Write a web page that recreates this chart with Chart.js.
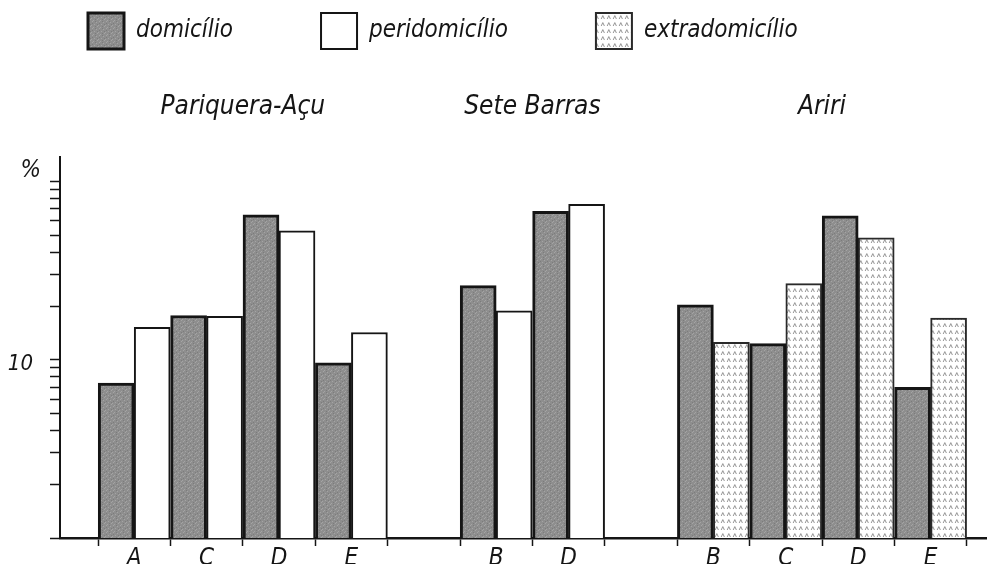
<!DOCTYPE html>
<html>
<head>
<meta charset="utf-8">
<script src="https://cdn.jsdelivr.net/npm/chart.js@4.4.1/dist/chart.umd.min.js"></script>
<style>
  html, body { margin: 0; padding: 0; background: #fff; }
  #chart { display: block; }
</style>
</head>
<body>
<canvas id="chart" width="987" height="564"></canvas>
<script>
// Slots along the x axis, blank ones are the gaps between localities
const slots = ['A', 'C', 'D', 'E', '', 'B', 'D', '', 'B', 'C', 'D', 'E'];
const slotGroup = [0, 0, 0, 0, null, 1, 1, null, 2, 2, 2, 2];
const groups = ['Pariquera-Açu', 'Sete Barras', 'Ariri'];

// Percentages
const domicilio      = [7.4, 17.7, 65, 9.6, null, 26, 68, null, 20.3, 12.3, 64, 7.0];
const peridomicilio  = [15.2, 17.5, 52.8, 14.2, null, 18.8, 74.4, null, null, null, null, null];
const extradomicilio = [null, null, null, null, null, null, null, null, 12.5, 26.7, 48.3, 17.1];

// y axis ticks (only 10 is labelled)
const yTicks = [1, 2, 3, 4, 5, 6, 7, 8, 9, 10, 20, 30, 40, 50, 60, 70, 80, 90, 100];
const yLabelled = [10];

const FONT = "'Liberation Sans Narrow', 'DejaVu Sans Condensed', 'Liberation Sans', sans-serif";
const INK = '#151515';

// Center of each locality, in slot units
const groupCenters = groups.map((g, gi) => {
  const idx = slotGroup.map((s, i) => (s === gi ? i : null)).filter(v => v !== null);
  return (idx[0] + idx[idx.length - 1]) / 2;
});

// Fill patterns
function makePattern(w, h, paint) {
  const c = document.createElement('canvas');
  c.width = w;
  c.height = h;
  paint(c.getContext('2d'));
  return document.getElementById('chart').getContext('2d').createPattern(c, 'repeat');
}

const grayFill = makePattern(7, 7, g => {
  g.fillStyle = '#8e8e8e';
  g.fillRect(0, 0, 7, 7);
  g.fillStyle = '#a4a4a4';
  [[1, 0], [5, 1], [3, 3], [0, 4], [6, 5], [2, 6]].forEach(([x, y]) => g.fillRect(x, y, 1, 1));
  g.fillStyle = '#7c7c7c';
  [[4, 0], [1, 2], [6, 3], [4, 5]].forEach(([x, y]) => g.fillRect(x, y, 1, 1));
});

const caretFill = makePattern(6, 7, g => {
  g.fillStyle = '#ffffff';
  g.fillRect(0, 0, 6, 7);
  g.strokeStyle = '#8a8a8a';
  g.lineWidth = 0.9;
  g.beginPath();
  g.moveTo(1.2, 5);
  g.lineTo(2.8, 1.6);
  g.lineTo(4.4, 5);
  g.stroke();
});

// Locality names above their bar groups, and the "%" unit mark
const annotations = {
  id: 'annotations',
  afterDraw(chart) {
    const {ctx, scales: {x, y}} = chart;
    ctx.save();
    ctx.fillStyle = INK;
    ctx.textBaseline = 'middle';
    ctx.textAlign = 'center';
    ctx.font = 'italic 26px ' + FONT;
    groups.forEach((g, i) => ctx.fillText(g, x.getPixelForValue(groupCenters[i]), y.top - 50));
    ctx.textAlign = 'right';
    ctx.font = 'italic 24px ' + FONT;
    ctx.fillText('%', 41, y.top + 14);
    ctx.restore();
  }
};

const labels = slots.map((s, i) => i);

new Chart(document.getElementById('chart'), {
  type: 'bar',
  data: {
    labels,
    datasets: [{
      label: 'domicílio',
      data: domicilio,
      stack: 'home',
      backgroundColor: grayFill,
      borderColor: INK,
      borderWidth: 3
    }, {
      label: 'peridomicílio',
      data: peridomicilio,
      stack: 'around',
      backgroundColor: '#ffffff',
      borderColor: INK,
      borderWidth: 2
    }, {
      label: 'extradomicílio',
      data: extradomicilio,
      stack: 'around',
      backgroundColor: caretFill,
      borderColor: '#2a2a2a',
      borderWidth: 2
    }]
  },
  options: {
    responsive: false,
    animation: false,
    barThickness: 36,
    layout: { padding: { top: -75, left: 0, right: 0, bottom: 0 } },
    plugins: {
      tooltip: { enabled: false },
      legend: {
        position: 'top',
        align: 'start',
        labels: {
          boxWidth: 36,
          boxHeight: 36,
          padding: 88,
          color: INK,
          font: { family: FONT, size: 24, style: 'italic' }
        }
      }
    },
    scales: {
      x: {
        type: 'linear',
        position: 'bottom',
        offset: false,
        min: -1.025,
        max: 11.779,
        bounds: 'data',
        z: 1,
        afterBuildTicks: scale => { scale.ticks = slots.map((s, i) => ({ value: i })); },
        afterFit: scale => { scale.height = 26; },
        grid: {
          display: true,
          offset: true,
          drawOnChartArea: false,
          tickLength: 8,
          tickWidth: 1.5,
          tickColor: INK
        },
        border: { display: true, color: INK, width: 2.5 },
        ticks: {
          autoSkip: false,
          maxRotation: 0,
          padding: 1,
          color: INK,
          font: { family: FONT, size: 24, style: 'italic', lineHeight: 1 },
          callback: v => slots[Math.round(v)]
        }
      },
      // empty band that keeps room for the locality names
      x2: {
        type: 'linear',
        axis: 'x',
        position: 'top',
        offset: false,
        min: -1.025,
        max: 11.779,
        afterFit: scale => { scale.height = 98; },
        grid: { display: false },
        border: { display: false },
        ticks: { display: false }
      },
      y: {
        type: 'logarithmic',
        position: 'left',
        min: 1,
        max: 137,
        stacked: false,
        afterBuildTicks: scale => { scale.ticks = yTicks.map(v => ({ value: v })); },
        afterFit: scale => { scale.width = 60; },
        grid: {
          display: true,
          drawOnChartArea: false,
          tickLength: 10,
          tickWidth: 1.5,
          tickColor: INK
        },
        border: { display: true, color: INK, width: 2 },
        ticks: {
          autoSkip: false,
          padding: 17,
          labelOffset: 5,
          color: INK,
          font: { family: FONT, size: 22, style: 'italic', lineHeight: 0.5 },
          callback: v => (yLabelled.includes(v) ? String(v) : '')
        }
      }
    }
  },
  plugins: [annotations]
});
</script>
</body>
</html>
